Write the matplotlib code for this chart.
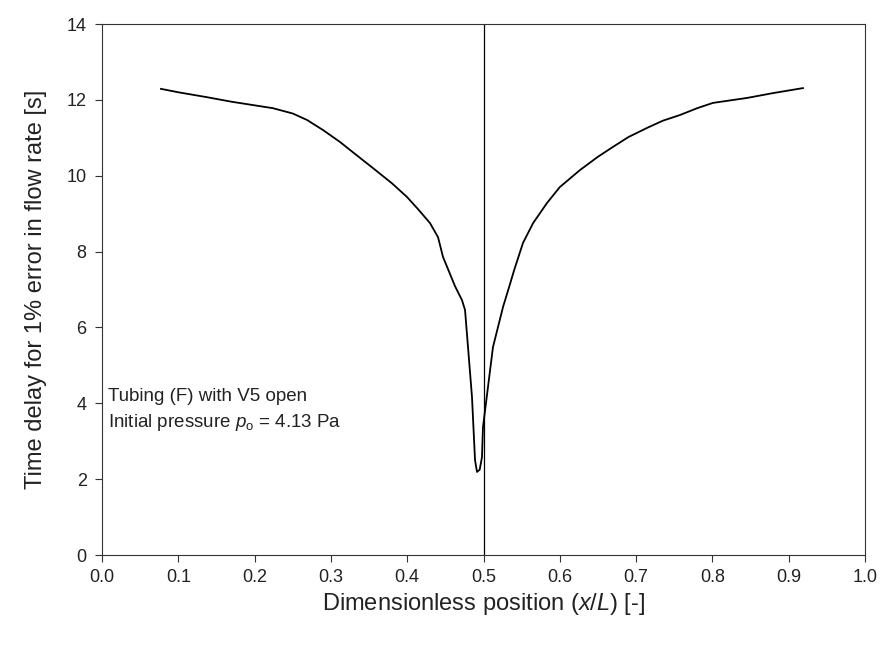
import matplotlib
matplotlib.use('Agg')
import matplotlib.pyplot as plt

plt.rcParams['font.family'] = ['Liberation Sans', 'DejaVu Sans']
plt.rcParams['mathtext.fontset'] = 'custom'
plt.rcParams['mathtext.it'] = 'Liberation Sans:italic'
plt.rcParams['mathtext.rm'] = 'Liberation Sans'

# Time delay along the tubing
position = [0.0773, 0.1000, 0.1376, 0.1700, 0.2241, 0.2500, 0.2687, 0.2900,
            0.3119, 0.3300, 0.3552, 0.3800, 0.3997, 0.4150, 0.4299, 0.4404,
            0.4469, 0.4626, 0.4718, 0.4758, 0.4797, 0.4849, 0.4889, 0.4915,
            0.4950, 0.4980, 0.4993, 0.5124, 0.5256, 0.5347, 0.5400, 0.5518,
            0.5650, 0.5832, 0.6000, 0.6265, 0.6500, 0.6697, 0.6900, 0.7143,
            0.7350, 0.7575, 0.7800, 0.8008, 0.8453, 0.8800, 0.9187]
delay = [12.29, 12.20, 12.07, 11.95, 11.78, 11.64, 11.47, 11.20,
         10.89, 10.60, 10.20, 9.80, 9.44, 9.10, 8.75, 8.38,
         7.86, 7.09, 6.72, 6.46, 5.48, 4.17, 2.50, 2.19,
         2.25, 2.58, 3.37, 5.48, 6.54, 7.14, 7.50, 8.23,
         8.75, 9.28, 9.70, 10.15, 10.50, 10.76, 11.02, 11.26,
         11.45, 11.60, 11.78, 11.92, 12.05, 12.18, 12.31]
midpoint = 0.5

x_ticks = [0.0, 0.1, 0.2, 0.3, 0.4, 0.5, 0.6, 0.7, 0.8, 0.9, 1.0]
y_ticks = [0, 2, 4, 6, 8, 10, 12, 14]

fig = plt.figure(figsize=(8.82, 6.53), dpi=100)
ax = fig.add_axes([102 / 882, 98 / 653, 763 / 882, 531 / 653])

ax.plot(position, delay, color='black', linewidth=1.3)
ax.axvline(midpoint, color='black', linewidth=0.9)

ax.set_xlim(0, 1)
ax.set_ylim(0, 14)
ax.set_xticks(x_ticks)
ax.set_xticklabels(['%.1f' % t for t in x_ticks])
ax.set_yticks(y_ticks)
ax.tick_params(direction='out', length=5, width=0.8, labelsize=13,
               colors='#333333', labelcolor='#222222')
ax.tick_params(axis='y', pad=6)
ax.tick_params(axis='x', pad=5)
for s in ax.spines.values():
    s.set_linewidth(0.8)
    s.set_color('#333333')

ax.set_xlabel('Dimensionless position ($x/L$) [-]', fontsize=17,
              color='#222222', labelpad=4)
ax.set_ylabel('Time delay for 1% error in flow rate [s]', fontsize=17,
              color='#222222', labelpad=14)

ax.text(0.008, 4.05, 'Tubing (F) with V5 open', fontsize=13.5, color='#222222',
        va='baseline')
ax.text(0.008, 3.38, 'Initial pressure $p_\\mathrm{o}$ = 4.13 Pa', fontsize=13.5,
        color='#222222', va='baseline')

fig.savefig('out.png', dpi=100)
